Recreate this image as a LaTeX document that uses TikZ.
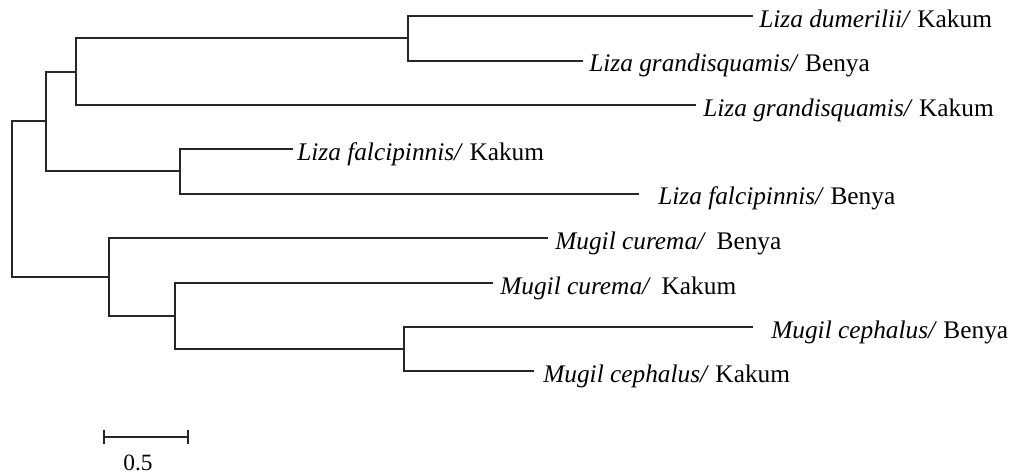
\documentclass[tikz,border=0pt]{standalone}
\usepackage{fontspec}
\setmainfont{Liberation Serif}
\begin{document}
\begin{tikzpicture}[x=0.75pt,y=-0.75pt,
  branch/.style={draw=black!85,line width=1.5pt},
  leaf/.style={anchor=base west,inner sep=0pt,font=\fontsize{19}{22}\selectfont},
  scalelbl/.style={anchor=base,inner sep=0pt,font=\fontsize{17.5}{20}\selectfont}]
\useasboundingbox (0,0) rectangle (1016,475);
% internal nodes
\coordinate (C) at (408,38.3);
\coordinate (B) at (76,71.6);
\coordinate (D) at (180,171.2);
\coordinate (A) at (46,121.4);
\coordinate (G) at (404,349);
\coordinate (F) at (175,316);
\coordinate (E) at (109,277);
\coordinate (R) at (12,199.2);
% leaf ends
\coordinate (e1) at (753,16);
\coordinate (e2) at (583,60.5);
\coordinate (e3) at (696,105);
\coordinate (e4) at (293,149);
\coordinate (e5) at (639,193.5);
\coordinate (e6) at (548,238);
\coordinate (e7) at (493,283);
\coordinate (e8) at (753,327);
\coordinate (e9) at (534,371);
% labels
\node[leaf] (t1) at (759,27) {\textit{Liza dumerilii/} Kakum};
\node[leaf] (t2) at (589,71.5) {\textit{Liza grandisquamis/} Benya};
\node[leaf] (t3) at (703,116) {\textit{Liza grandisquamis/} Kakum};
\node[leaf] (t4) at (297,160) {\textit{Liza falcipinnis/} Kakum};
\node[leaf] (t5) at (658,204.5) {\textit{Liza falcipinnis/} Benya};
\node[leaf] (t6) at (555,249) {\textit{Mugil curema/}\, Benya};
\node[leaf] (t7) at (500,294) {\textit{Mugil curema/}\, Kakum};
\node[leaf] (t8) at (771,338) {\textit{Mugil cephalus/} Benya};
\node[leaf] (t9) at (543,382) {\textit{Mugil cephalus/} Kakum};
% branches
\draw[branch] (C) |- (e1);
\draw[branch] (C) |- (e2);
\draw[branch] (B) |- (C);
\draw[branch] (B) |- (e3);
\draw[branch] (D) |- (e4);
\draw[branch] (D) |- (e5);
\draw[branch] (A) |- (B);
\draw[branch] (A) |- (D);
\draw[branch] (G) |- (e8);
\draw[branch] (G) |- (e9);
\draw[branch] (F) |- (e7);
\draw[branch] (F) |- (G);
\draw[branch] (E) |- (e6);
\draw[branch] (E) |- (F);
\draw[branch] (R) |- (A);
\draw[branch] (R) |- (E);
% scale bar
\coordinate (s1) at (104,437);
\coordinate (s2) at (188,437);
\draw[branch,line width=1.3pt] (s1) -- (s2);
\draw[branch,line width=1.3pt] ([yshift=5.5pt]s1) -- ([yshift=-5.5pt]s1);
\draw[branch,line width=1.3pt] ([yshift=5.5pt]s2) -- ([yshift=-5.5pt]s2);
\node[scalelbl] (sl) at (138,470) {0.5};
\end{tikzpicture}
\end{document}
